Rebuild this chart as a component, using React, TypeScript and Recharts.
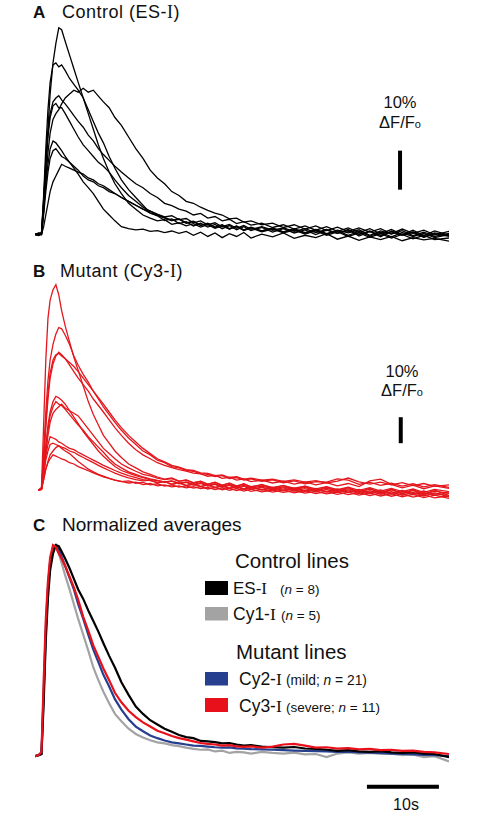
import React from "react";
import { LineChart, Line, XAxis, YAxis, ReferenceLine } from "recharts";

// time (s) of each sample, shared by every trace
const T = [
  0, 0.5, 0.9, 1.2, 1.5, 1.8, 2.1, 2.5, 2.9, 3.3,
  3.7, 4.2, 4.8, 5.4, 6, 6.7, 7.4, 8.1, 8.8, 9.5,
  10.3, 11.1, 12, 13, 14, 15, 16, 17, 18, 19,
  20, 21, 22, 23, 24, 25, 26, 27, 28, 29,
  30, 31.5, 33, 34.5, 36, 37.5, 39, 40.5, 42, 43.5,
  45, 46.5, 48, 49.5, 51, 52.5, 54, 55.5, 57.5,
];

// A: control (ES-I), %dF/F
const A1 = [
  0, 0.3, 0.5, 8, 18, 27, 36, 44, 49, 53,
  52.5, 49.5, 46, 42.5, 39, 35, 31, 27, 23, 19.5,
  16, 13, 10.5, 8, 6.5, 5, 4.2, 3.5, 3.8, 2.6,
  3, 2.2, 2.8, 1.9, 2.5, 1.6, 2.2, 1.4, 2, 1.1,
  1.8, 0.9, 1.6, 0.7, 1.5, 0.5, 1.3, 0.2, 1.1, 0.4,
  1.2, -0.2, 0.9, 0.1, 1, -0.3, 0.6, -0.5, 0.3,
];
const A2 = [
  0, -0.2, 0.3, 10, 22, 32, 39, 43.5, 44, 43,
  43.5, 42, 40, 38.5, 37, 35, 32, 29, 26, 23.5,
  20, 17, 14, 11.5, 9.5, 7.5, 5.5, 4.8, 3.6, 4,
  2.8, 3.3, 2.2, 2.9, 1.9, 2.6, 1.5, 2.3, 1.2, 2,
  1, 1.8, 0.6, 1.5, 0.4, 1.2, 0, 1.1, 0.3, 1.3,
  -0.4, 0.8, -0.6, 0.9, -0.1, 0.7, -0.8, 0.4, -0.3,
];
const A3 = [
  0, 0.2, 0, 6, 14, 21, 26, 29.5, 31, 32,
  33.5, 35, 36, 37, 36.5, 37.5, 36.5, 37, 35.5, 34,
  32.5, 30, 28, 25, 22, 19.5, 16.5, 14.5, 13, 11,
  10, 8.5, 8, 7, 6.2, 5.5, 5, 4, 4.2, 3.2,
  3.5, 2.5, 2.9, 1.8, 2.5, 1.4, 2.2, 1, 1.9, 0.8,
  1.7, 0.6, 1.5, 0.2, 1.4, 0.3, 1.1, -0.1, 0.8,
];
const A4 = [
  0, 0.4, 0.2, 9, 19, 26, 31, 34, 35, 35.6,
  34.5, 33.5, 32, 30.5, 29, 27.5, 25.5, 24, 22, 20.5,
  19, 17.5, 16, 14.5, 13, 12, 10.5, 9.5, 8, 7.4,
  6.5, 6, 5, 5.4, 4.2, 4.6, 3.5, 3.9, 2.8, 3.3,
  2.4, 2.9, 1.8, 2.5, 1.4, 2.2, 1.1, 2, 0.8, 1.7,
  0.5, 1.5, 0.2, 1.3, 0, 1.1, -0.3, 0.9, -0.2,
];
const A5 = [
  0, -0.3, 0, 8, 17, 25, 30, 33, 33.6, 32.5,
  32.5, 31, 29, 27, 25, 23, 21.5, 20, 18.5, 17.5,
  16, 14, 12, 10, 8.5, 7, 6, 5, 4.4, 3.6,
  4, 3, 3.4, 2.4, 2.9, 1.9, 2.5, 1.5, 2.2, 1.2,
  1.9, 0.9, 1.6, 0.6, 1.3, 0.3, 1.2, 0.1, 1, -0.2,
  0.8, -0.4, 0.6, -0.6, 0.5, -0.5, 0.3, -0.8, 0,
];
const A6 = [
  0, 0.2, 0, 6, 13, 18, 22, 24, 23.5, 22.5,
  21.5, 20, 18.5, 17, 15.5, 13.5, 12, 10.5, 8.5, 6.5,
  5, 3.5, 2, 1.5, 1.2, 1.4, 0.8, 1, 0.5, 0.9,
  0.3, 0.8, -0.2, 0.6, -0.5, 0.4, -0.8, 0.2, -0.5, 0.5,
  -0.9, 0.1, -0.6, 0.4, -1, -0.2, -0.8, 0.2, -1.2, -0.4,
  -1.5, -0.6, -1.3, -0.5, -1.6, -0.8, -1.4, -1, -1.7,
];
const A7 = [
  0, 0.1, 0.2, 5, 11, 16, 19.5, 21.5, 22, 21,
  20, 19.5, 18.5, 17.5, 16.5, 15, 14, 13.5, 12.5, 12,
  11, 10.5, 9.5, 8.5, 7.5, 6.5, 6, 5.2, 4.5, 4.8,
  3.8, 4.1, 3, 3.5, 2.5, 3, 2, 2.6, 1.6, 2.3,
  1.3, 2, 1.1, 1.7, 0.8, 1.5, 0.5, 1.3, 0.3, 1,
  0, 0.9, -0.3, 0.7, -0.2, 0.5, -0.6, 0.2, -0.5,
];
const A8 = [
  0, 0.3, 0, 2, 5, 8, 11, 13.5, 15, 16.5,
  18, 17.5, 17, 16.5, 16, 15.5, 14.5, 14, 13, 12.5,
  11.5, 10.5, 9.5, 8.5, 7.5, 6.5, 5.5, 4.9, 4.2, 3.6,
  3.9, 2.9, 3.3, 2.3, 2.8, 1.8, 2.4, 1.4, 2.1, 1,
  1.7, 0.7, 1.4, 0.4, 1.1, 0.1, 0.9, -0.2, 0.7, -0.5,
  0.4, -0.7, 0.2, -0.9, 0, -1.1, -0.2, -1.3, -0.9,
];

// B: mutant (Cy3-I), %dF/F
const B1 = [
  null, 0, 1, 25, 50, 66, 73, 77, 79, 75,
  69, 63, 57, 51, 46, 40, 34, 29, 25, 21,
  18, 15, 12.5, 10, 8.5, 7, 6, 5, 4.2, 4.6,
  3.4, 3.9, 2.8, 3.4, 2.2, 3, 1.8, 2.6, 1.3, 2.4,
  1, 2.1, 0.6, 1.8, 0.2, 1.5, -0.3, 1.2, -0.6, 1,
  -0.9, 0.7, -1.3, 0.4, -1.6, 0.2, -1.9, 0, -2.2,
];
const B2 = [
  null, 0, 0.5, 14, 30, 42, 50, 56, 60, 62.5,
  62, 59.5, 56, 51.5, 48, 44.5, 41.5, 38, 35, 32,
  29, 26, 23, 20, 17.5, 15, 13.5, 11.5, 10.5, 9,
  8.5, 7.6, 7.2, 6.3, 6, 5.2, 5.5, 4.4, 4.8, 3.8,
  4.3, 3.3, 3.9, 2.8, 3.5, 2.4, 3.2, 3, 4.3, 3.8,
  2.2, 2.9, 1.8, 2.6, 1.5, 2.4, 1.2, 2.1, 1,
];
const B3 = [
  null, 0, 0.3, 12, 26, 37, 45, 50, 52, 52.5,
  51.5, 50.5, 49, 47.5, 45.5, 43, 40.5, 38, 35.5, 33,
  30, 27, 24, 21, 18.5, 16, 14, 12, 10.8, 9.5,
  8.8, 7.8, 7.5, 6.6, 6.4, 5.5, 5.8, 4.8, 5.1, 4.2,
  4.6, 3.8, 4.2, 3.3, 3.9, 3, 3.6, 2.7, 3.4, 4.6,
  3.1, 2.3, 3, 2, 2.8, 1.7, 2.5, 1.4, 2,
];
const B4 = [
  null, 0, 0.5, 11, 24, 35, 43, 48.5, 51.5, 53,
  52, 50.5, 48, 45.5, 43, 40.5, 38, 35, 32.5, 30,
  27, 24, 21, 18, 15.5, 13.5, 12, 10.5, 9.5, 8.6,
  7.8, 7.3, 6.5, 6.2, 5.3, 5.6, 4.5, 4.9, 3.8, 4.3,
  3.2, 3.8, 2.7, 3.4, 2.3, 3.1, 2, 2.8, 1.6, 2.5,
  1.3, 3.5, 4.2, 2.2, 0.8, 1.9, 0.5, 1.6, 0.6,
];
const B5 = [
  null, 0, 0.4, 8, 17, 25, 30, 34, 36, 35.5,
  34.5, 33, 30.5, 28, 25.5, 22.5, 20, 17.5, 15, 13,
  11, 9, 7.5, 6.5, 5.5, 4.8, 4, 3.6, 3.1, 3.5,
  2.6, 3.1, 2.2, 2.8, 1.8, 2.4, 1.4, 2.1, 1.1, 1.8,
  0.8, 1.5, 0.5, 1.2, 0.1, 1, -0.2, 0.7, -0.5, 0.5,
  -0.8, 0.3, -1, 0, -1.3, -0.2, -1.5, -0.5, -1.2,
];
const B6 = [
  null, 0, 0.2, 7, 16, 23, 28.5, 32, 34, 33,
  32.5, 31, 29, 27, 25, 23, 20.5, 18.5, 16.5, 14.5,
  12, 10, 8.5, 7, 6, 5, 4.3, 3.7, 3, 3.4,
  2.4, 2.9, 1.9, 2.5, 1.5, 2.2, 1, 1.8, 0.6, 1.5,
  0.3, 1.1, 0, 0.8, -0.4, 0.5, -0.7, 0.2, -1, 0,
  -1.4, -0.3, -1.7, -0.6, -2, -0.9, -2.3, -1.1, -2.6,
];
const B7 = [
  null, 0, 0.3, 6, 14, 21, 26, 29.5, 31, 32,
  33, 31.5, 30.5, 29.5, 28.5, 26, 23.5, 21, 18.5, 16,
  14, 12, 10, 8.5, 7.2, 6, 5.4, 4.6, 4, 4.4,
  3.3, 3.8, 2.7, 3.3, 2.3, 2.9, 1.9, 2.6, 1.6, 2.3,
  1.3, 2, 1, 1.7, 0.7, 1.5, 0.4, 1.3, 0.1, 1.1,
  -0.1, 0.9, -0.4, 0.6, -0.6, 0.4, -0.9, 0.2, -0.6,
];
const B8 = [
  null, 0, 0.5, 7, 13, 17.5, 20.5, 20, 19.5, 18.5,
  18, 17, 16, 15.5, 14.5, 13.5, 12.5, 11.5, 10.5, 9.5,
  8.5, 7.5, 6.5, 5.5, 4.8, 4, 3.6, 2.9, 3.2, 2.3,
  2.7, 1.8, 2.3, 1.4, 2, 1, 1.7, 0.7, 1.4, 0.4,
  1.2, 0.2, 1, -0.1, 0.8, -0.4, 0.6, -0.6, 0.4, -0.8,
  0.2, -1, 0, -1.2, -0.2, -1.4, -0.4, -1.6, -0.7,
];
const B9 = [
  null, 0, 0.4, 6, 11.5, 15, 17.5, 18, 17.5, 17,
  16, 15, 14, 12.5, 11, 9.5, 8, 7, 6, 5.3,
  4.5, 3.8, 3.3, 2.7, 3, 2.1, 2.5, 1.6, 2, 1.2,
  1.6, 0.8, 1.3, 0.5, 1, 0.2, 0.8, -0.1, 0.5, -0.4,
  0.3, -0.7, 0, -0.9, -0.2, -1.2, -0.5, -1.5, -0.7, -1.8,
  -1, -2.1, -1.2, -2.4, -1.5, -2.7, -1.8, -3, -2.2,
];
const B10 = [
  null, 0, 0.2, 4, 8, 11, 13.5, 15, 16.3, 17,
  16.5, 16, 15, 14.5, 13.5, 12.5, 11.5, 10.5, 9.5, 8.5,
  7.5, 6.5, 5.5, 4.7, 4, 3.5, 3.8, 2.8, 3.2, 2.2,
  2.7, 1.7, 2.2, 1.3, 1.9, 0.9, 1.5, 0.6, 1.2, 0.3,
  1, 0, 0.7, -0.3, 0.5, -0.6, 0.2, -0.8, 0, -1,
  -0.3, -1.3, -0.5, -1.6, -0.7, -1.8, -1, -2, -1.4,
];
const B11 = [
  null, 0, 0.3, 4, 8, 10.5, 12, 13.5, 13, 12.5,
  12, 11.5, 10.5, 10, 9, 8.2, 7.4, 6.6, 5.8, 5,
  4.5, 3.8, 3.2, 3.5, 2.6, 2.9, 2, 2.4, 1.5, 2,
  1.1, 1.6, 0.7, 1.3, 0.4, 1, 0.1, 0.7, -0.2, 0.5,
  -0.5, 0.2, -0.8, 0, -1.1, -0.2, -1.4, -0.5, -1.7, -0.8,
  -2, -1.1, -2.3, -1.4, -2.6, -1.7, -2.9, -2, -3.2,
];

// C: normalized averages
const ES1 = [
  0, 0.005, 0.01, 0.25, 0.55, 0.75, 0.88, 0.96, 1.0, 0.995,
  0.97, 0.935, 0.89, 0.84, 0.79, 0.745, 0.69, 0.64, 0.59, 0.535,
  0.475, 0.42, 0.35, 0.29, 0.235, 0.2, 0.17, 0.15, 0.13, 0.115,
  0.1, 0.09, 0.085, 0.072, 0.07, 0.066, 0.06, 0.062, 0.055, 0.05,
  0.052, 0.045, 0.042, 0.04, 0.043, 0.036, 0.034, 0.03, 0.025, 0.028,
  0.022, 0.02, 0.024, 0.018, 0.015, 0.018, 0.012, 0.01, -0.005,
];
const CY1 = [
  0, 0.006, 0.01, 0.28, 0.58, 0.79, 0.92, 0.99, 1.0, 0.96,
  0.915, 0.855, 0.79, 0.72, 0.65, 0.575, 0.5, 0.42, 0.36, 0.305,
  0.25, 0.2, 0.165, 0.13, 0.105, 0.088, 0.075, 0.065, 0.06, 0.052,
  0.047, 0.04, 0.034, 0.03, 0.032, 0.022, 0.026, 0.015, 0.02, 0.018,
  0.012, 0.02, 0.015, 0.012, 0.016, 0.008, 0.01, -0.005, 0.012, 0.018,
  0.012, 0.015, 0.01, 0.012, 0.005, 0.008, -0.005, 0, -0.025,
];
const CY2 = [
  0, 0.003, 0.01, 0.3, 0.6, 0.8, 0.92, 0.985, 1.0, 0.98,
  0.945, 0.9, 0.845, 0.79, 0.72, 0.65, 0.575, 0.505, 0.445, 0.385,
  0.33, 0.27, 0.22, 0.175, 0.14, 0.118, 0.098, 0.085, 0.074, 0.065,
  0.06, 0.055, 0.05, 0.048, 0.045, 0.042, 0.04, 0.041, 0.037, 0.035,
  0.033, 0.032, 0.03, 0.028, 0.026, 0.025, 0.024, 0.022, 0.02, 0.021,
  0.018, 0.016, 0.015, 0.012, 0.01, 0.008, 0.006, 0.004, 0,
];
const CY3 = [
  0, 0.005, 0.02, 0.35, 0.65, 0.83, 0.94, 1.0, 0.99, 0.96,
  0.935, 0.9, 0.85, 0.8, 0.74, 0.66, 0.595, 0.525, 0.47, 0.415,
  0.36, 0.3, 0.255, 0.215, 0.185, 0.16, 0.14, 0.12, 0.108, 0.095,
  0.085, 0.078, 0.07, 0.062, 0.058, 0.055, 0.05, 0.052, 0.046, 0.044,
  0.046, 0.04, 0.045, 0.055, 0.058, 0.05, 0.04, 0.042, 0.035, 0.038,
  0.032, 0.034, 0.028, 0.03, 0.025, 0.026, 0.02, 0.018, 0.01,
];

const SANS = "'Liberation Sans', Arial, sans-serif";
const SERIF = "'Liberation Serif', 'Times New Roman', serif";
const RED = "#e3171d";

function rows(series: Record<string, (number | null)[]>) {
  return T.map((t, i) => {
    const r: Record<string, number | null> = { t };
    Object.keys(series).forEach((k) => (r[k] = series[k][i]));
    return r;
  });
}

const dataA = rows({ A1, A2, A3, A4, A5, A6, A7, A8 });
const dataB = rows({ B1, B2, B3, B4, B5, B6, B7, B8, B9, B10, B11 });
const dataC = rows({ CY1, CY2, ES1, CY3 });

const place = (top: number, height: number): React.CSSProperties => ({
  position: "absolute",
  left: 35,
  top,
  width: 414,
  height,
});

function Panel({
  data,
  keys,
  color,
  domain,
  top,
  height,
  bar,
}: {
  data: any[];
  keys: string[];
  color: string;
  domain: [number, number];
  top: number;
  height: number;
  bar: [number, number, number];
}) {
  return (
    <div style={place(top, height)}>
      <LineChart width={414} height={height} data={data} margin={{ top: 0, right: 0, bottom: 0, left: 0 }}>
        <XAxis dataKey="t" type="number" domain={[0, 57.5]} hide />
        <YAxis type="number" domain={domain} hide />
        {keys.map((k) => (
          <Line
            key={k}
            dataKey={k}
            stroke={color}
            strokeWidth={1.3}
            dot={false}
            type="linear"
            isAnimationActive={false}
          />
        ))}
        <ReferenceLine
          segment={[
            { x: bar[0], y: bar[1] },
            { x: bar[0], y: bar[2] },
          ]}
          stroke="#000"
          strokeWidth={4}
        />
      </LineChart>
    </div>
  );
}

const SCALE_NOTE = (cx: number, y1: number, y2: number) => (
  <g fontFamily={SANS} fontSize={16.5} textAnchor="middle" fill="#111">
    <text x={cx} y={y1}>10%</text>
    <text x={cx} y={y2}>
      ΔF/F<tspan fontSize={11}>o</tspan>
    </text>
  </g>
);

export default function App() {
  return (
    <div style={{ position: "absolute", left: 0, top: 0, width: 483, height: 818, background: "#fff" }}>
      <Panel
        data={dataA}
        keys={["A1", "A2", "A3", "A4", "A5", "A6", "A7", "A8"]}
        color="#000"
        domain={[-5, 55]}
        top={19.5}
        height={234}
        bar={[50.7, 11.5, 21.5]}
      />
      <Panel
        data={dataB}
        keys={["B1", "B2", "B3", "B4", "B5", "B6", "B7", "B8", "B9", "B10", "B11"]}
        color={RED}
        domain={[-5, 85]}
        top={269}
        height={234}
        bar={[50.8, 18, 28]}
      />
      <div style={place(524.4, 274.3)}>
        <LineChart width={414} height={274.3} data={dataC} margin={{ top: 0, right: 0, bottom: 0, left: 0 }}>
          <XAxis dataKey="t" type="number" domain={[0, 57.5]} hide />
          <YAxis type="number" domain={[-0.2, 1.1]} hide />
          <Line dataKey="CY1" stroke="#a3a3a3" strokeWidth={2.2} dot={false} type="linear" isAnimationActive={false} />
          <Line dataKey="CY2" stroke="#263f8e" strokeWidth={2.2} dot={false} type="linear" isAnimationActive={false} />
          <Line dataKey="ES1" stroke="#000" strokeWidth={2.2} dot={false} type="linear" isAnimationActive={false} />
          <Line dataKey="CY3" stroke="#e8101a" strokeWidth={2.2} dot={false} type="linear" isAnimationActive={false} />
          <ReferenceLine
            segment={[
              { x: 46.1, y: -0.145 },
              { x: 56.1, y: -0.145 },
            ]}
            stroke="#000"
            strokeWidth={4}
          />
        </LineChart>
      </div>

      <svg width={483} height={818} style={{ position: "absolute", left: 0, top: 0, pointerEvents: "none" }}>
        <g fontFamily={SANS} fill="#111">
          <text x={33} y={17.5} fontSize={17} fontWeight="bold">A</text>
          <text x={62} y={17.5} fontSize={18} letterSpacing={0.5}>
            Control (ES-<tspan fontFamily={SERIF}>I</tspan>)
          </text>
          <text x={33} y={277} fontSize={17} fontWeight="bold">B</text>
          <text x={60} y={277} fontSize={18} letterSpacing={0.5}>
            Mutant (Cy3-<tspan fontFamily={SERIF}>I</tspan>)
          </text>
          <text x={33} y={531} fontSize={17} fontWeight="bold">C</text>
          <text x={62} y={531} fontSize={19}>Normalized averages</text>

          <text x={235} y={568} fontSize={20.5}>Control lines</text>
          <rect x={205} y={581} width={23} height={14} fill="#000" />
          <text x={233} y={593.5} fontSize={17}>
            ES-<tspan fontFamily={SERIF}>I</tspan>
          </text>
          <text x={280} y={593.5} fontSize={13.5}>
            (<tspan fontStyle="italic">n</tspan> = 8)
          </text>
          <rect x={205} y={607} width={23} height={13.5} fill="#a3a3a3" />
          <text x={233} y={620} fontSize={17.5}>
            Cy1-<tspan fontFamily={SERIF}>I</tspan>
          </text>
          <text x={281} y={620} fontSize={13.5}>
            (<tspan fontStyle="italic">n</tspan> = 5)
          </text>

          <text x={236} y={658.5} fontSize={20.5}>Mutant lines</text>
          <rect x={205} y={672} width={23} height={13.5} fill="#263f8e" />
          <text x={239} y={685} fontSize={17.5}>
            Cy2-<tspan fontFamily={SERIF}>I</tspan>
          </text>
          <text x={286} y={685} fontSize={13.8}>
            (mild; <tspan fontStyle="italic">n</tspan> = 21)
          </text>
          <rect x={205} y={698} width={23} height={14} fill="#e8101a" />
          <text x={239} y={711.5} fontSize={17.5}>
            Cy3-<tspan fontFamily={SERIF}>I</tspan>
          </text>
          <text x={286} y={711.5} fontSize={13.5}>
            (severe; <tspan fontStyle="italic">n</tspan> = 11)
          </text>

          <text x={406} y={810} fontSize={16} textAnchor="middle">10s</text>
        </g>
        {SCALE_NOTE(400, 108.3, 128.3)}
        {SCALE_NOTE(402, 377, 395.5)}
      </svg>
    </div>
  );
}
